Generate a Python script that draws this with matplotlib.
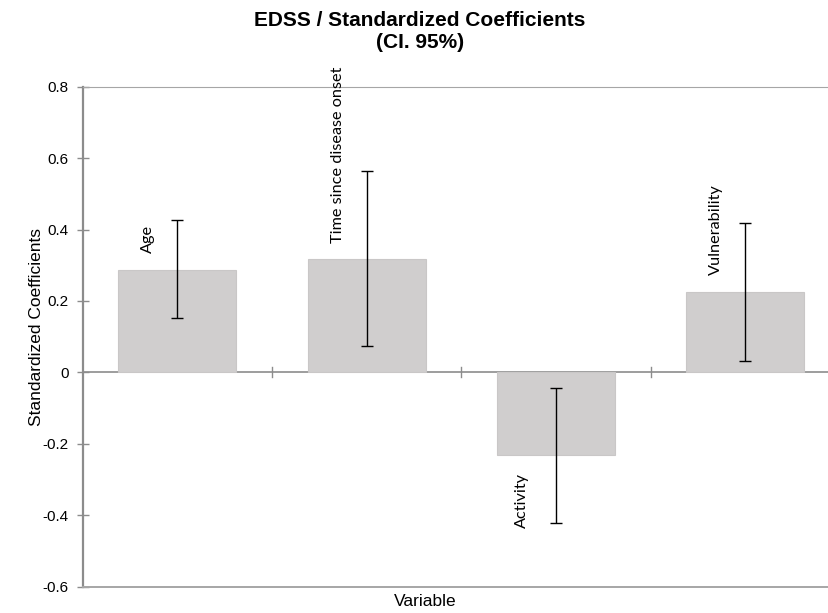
import matplotlib
matplotlib.use("Agg")
import matplotlib.pyplot as plt
import numpy as np

# Standardized coefficients for EDSS with 95% confidence limits
variables = ["Age", "Time since disease onset", "Activity", "Vulnerability"]
coefficients = [0.287, 0.317, -0.230, 0.226]
ci_lower = [0.153, 0.073, -0.421, 0.033]
ci_upper = [0.428, 0.564, -0.044, 0.418]
y_ticks = [0.8, 0.6, 0.4, 0.2, 0, -0.2, -0.4, -0.6]
y_tick_labels = ["0.8", "0.6", "0.4", "0.2", "0", "-0.2", "-0.4", "-0.6"]

plt.rcParams["font.family"] = ["Liberation Sans", "DejaVu Sans"]

fig = plt.figure(figsize=(8.29, 6.13), dpi=100)
ax = fig.add_axes([82.7 / 829, 26.3 / 613, 757.3 / 829, 500.0 / 613])

x = np.arange(len(variables))
coef = np.array(coefficients)
err_lo = coef - np.array(ci_lower)
err_hi = np.array(ci_upper) - coef

ax.bar(x, coef, width=0.623, color="#d0cece", edgecolor="#c9c7c7",
       linewidth=0.8, zorder=2)
ax.errorbar(x, coef, yerr=[err_lo, err_hi], fmt="none", ecolor="black",
            elinewidth=1.0, capsize=4.5, capthick=1.0, zorder=3)

# rotated category names next to each bar
for xi, v, name in zip(x, coefficients, variables):
    dx = -29 if v >= 0 else -34
    dy = 12 if v >= 0 else -13
    ax.annotate(name, xy=(xi, v), xytext=(dx * 0.72, dy),
                textcoords="offset points", rotation=90,
                ha="center", va="bottom" if v >= 0 else "top",
                fontsize=11.7, family=["Lato", "DejaVu Sans"],
                color="black", zorder=4, annotation_clip=False)

ax.set_xlim(-0.5, len(variables) - 0.5)
ax.set_ylim(-0.6, 0.8)
ax.set_yticks(y_ticks)
ax.set_yticklabels(y_tick_labels, fontsize=11)

# zero baseline with category separators
ax.axhline(0, color="#8c8c8c", linewidth=1.2, zorder=1)
for sep in x[:-1] + 0.5:
    ax.plot([sep, sep], [-0.014, 0.014], color="#8c8c8c", linewidth=1.0,
            zorder=1)
ax.set_xticks([])

for side in ["top", "bottom", "left", "right"]:
    ax.spines[side].set_color("#a6a6a6")
ax.spines["left"].set_color("#8c8c8c")
ax.spines["left"].set_linewidth(1.6)
ax.spines["bottom"].set_linewidth(1.4)
ax.spines["top"].set_linewidth(0.8)
ax.spines["right"].set_visible(False)

ax.tick_params(axis="y", direction="inout", length=8, width=1.0,
               color="#8c8c8c", pad=6)

ax.set_ylabel("Standardized Coefficients", fontsize=12.5)
ax.yaxis.set_label_coords(-0.051, 0.52)
fig.text(425 / 829, 1 - 602 / 613, "Variable", ha="center", va="center",
         fontsize=12.5)

fig.text(420 / 829, 1 - 31 / 613,
         "EDSS / Standardized Coefficients\n(CI. 95%)",
         ha="center", va="center", fontsize=15, fontweight="bold",
         linespacing=1.2)

fig.savefig("out.png", dpi=100)
